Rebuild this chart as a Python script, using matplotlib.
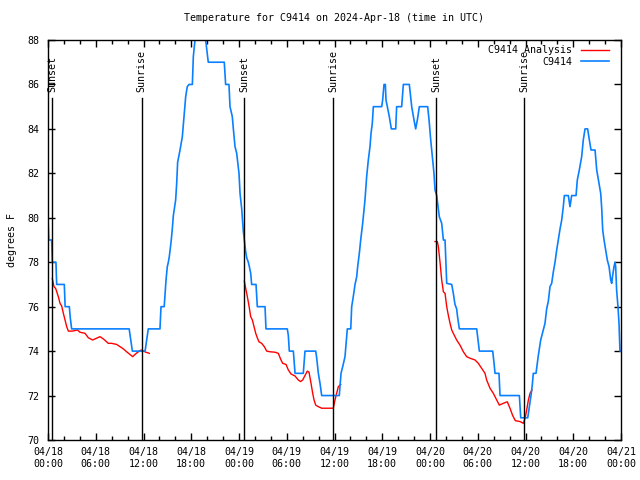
import matplotlib
matplotlib.use("Agg")
import matplotlib.pyplot as plt
import numpy as np

# Observed station temperature (hours since 04/18 00:00 UTC, deg F)
obs_hours = [0.0, 0.05, 0.1, 0.46, 0.54, 1.0, 1.09, 2.05, 2.15, 2.68, 2.8, 2.97,
             10.2, 10.6, 12.2, 12.6, 14.07, 14.2, 14.6, 14.7, 14.83, 14.99, 15.12, 15.24,
             15.46, 15.62, 15.75, 15.87, 16.04, 16.17, 16.29, 16.59, 16.88, 17.09, 17.3,
             17.5, 17.72, 18.14, 18.26, 18.47, 19.1, 19.81, 20.14, 22.15, 22.32, 22.74,
             22.87, 23.16, 23.29, 23.5, 23.71, 24.0, 24.13, 24.34, 24.54, 24.67, 24.84,
             24.97, 25.17, 25.3, 25.47, 25.59, 26.14, 26.3, 27.27, 27.39, 30.07, 30.2,
             30.32, 30.83, 31.04, 32.08, 32.29, 33.64, 33.76, 33.97, 34.18, 34.39, 34.81,
             36.6, 36.82, 37.03, 37.32, 37.53, 37.61, 38.04, 38.16, 38.36, 38.58, 38.79,
             38.91, 39.12, 39.29, 39.54, 39.71, 39.83, 40.04, 40.25, 40.46, 40.59, 40.75,
             40.88, 41.93, 42.05, 42.22, 42.39, 42.47, 42.64, 42.89, 43.14, 43.69, 43.81,
             44.44, 44.65, 45.4, 45.7, 45.99, 46.2, 46.41, 46.66, 47.71, 47.88, 48.09,
             48.29, 48.5, 48.63, 48.84, 49.05, 49.17, 49.47, 49.68, 49.89, 50.1, 50.73,
             50.93, 51.14, 51.35, 51.48, 51.69, 53.87, 54.0, 54.2, 55.88, 56.05, 56.17,
             56.67, 56.8, 59.23, 59.4, 60.28, 60.48, 60.69, 60.86, 60.98, 61.32, 61.61,
             61.91, 62.24, 62.45, 62.66, 62.87, 63.08, 63.29, 63.5, 63.71, 63.92, 64.12,
             64.34, 64.55, 64.75, 64.88, 65.38, 65.59, 65.8, 66.35, 66.51, 66.76, 67.06,
             67.26, 67.48, 67.81, 67.98, 68.23, 68.74, 68.95, 69.24, 69.45, 69.58, 69.7,
             69.87, 70.08, 70.28, 70.5, 70.71, 70.83, 70.95, 71.12, 71.25, 71.33, 71.45,
             71.62, 71.75, 71.87, 72.0]
obs_temps = [80.0, 79.5, 79.0, 79.0, 78.0, 78.0, 77.0, 77.0, 76.0, 76.0, 75.5, 75.0,
             75.0, 74.0, 74.0, 75.0, 75.0, 76.0, 76.0, 76.5, 77.2, 77.8, 78.0, 78.25,
             78.9, 79.5, 80.1, 80.4, 80.8, 81.55, 82.5, 83.05, 83.65, 84.55, 85.45,
             85.9, 86.0, 86.0, 87.25, 88.0, 89.0, 88.0, 87.0, 87.0, 86.0, 86.0,
             85.0, 84.55, 84.0, 83.2, 82.9, 82.0, 81.1, 80.4, 79.4, 79.0, 78.47,
             78.2, 78.0, 77.8, 77.5, 77.0, 77.0, 76.0, 76.0, 75.0, 75.0, 74.7,
             74.0, 74.0, 73.0, 73.0, 74.0, 74.0, 73.7, 73.0, 72.55, 72.0, 72.0,
             72.0, 73.0, 73.3, 73.75, 74.7, 75.0, 75.0, 76.0, 76.45, 77.0, 77.35,
             77.8, 78.4, 79.0, 79.75, 80.35, 80.8, 81.85, 82.6, 83.2, 83.8, 84.25,
             85.0, 85.0, 85.3, 86.0, 86.0, 85.3, 85.0, 84.55, 84.0, 84.0, 85.0,
             85.0, 86.0, 86.0, 85.0, 84.4, 84.0, 84.4, 85.0, 85.0, 84.4, 83.5,
             82.75, 82.0, 81.25, 81.0, 80.4, 80.05, 79.75, 79.0, 79.0, 77.05, 77.0,
             76.6, 76.1, 75.9, 75.5, 75.0, 75.0, 74.6, 74.0, 74.0, 73.45, 73.0,
             73.0, 72.0, 72.0, 71.0, 71.0, 71.5, 72.0, 72.5, 73.0, 73.0, 73.8,
             74.5, 74.95, 75.25, 75.9, 76.25, 76.9, 77.05, 77.57, 78.0, 78.55, 79.0,
             79.5, 79.9, 80.5, 81.0, 81.0, 80.5, 81.0, 81.0, 81.7, 82.15, 82.75,
             83.5, 84.0, 84.0, 83.6, 83.05, 83.05, 82.15, 81.55, 81.1, 80.4, 79.45,
             79.0, 78.55, 78.1, 77.8, 77.2, 77.05, 77.4, 77.8, 78.0, 77.8, 76.75,
             76.0, 75.25, 74.0, 74.0]

# Analysis (overnight segments)
ana1_hours = [0.54, 0.75, 0.96, 1.3, 1.51, 1.72, 1.93, 2.14, 2.35, 2.56, 3.06, 3.69,
              4.02, 4.65, 5.07, 5.61, 5.91, 6.53, 6.95, 7.58, 8.0, 8.63, 9.05, 9.47,
              9.88, 10.3, 10.64, 10.93, 11.27, 11.69, 11.98, 12.31, 12.73]
ana1_temps = [77.27, 76.9, 76.82, 76.45, 76.15, 76.03, 75.7, 75.4, 75.1, 74.9, 74.9, 74.95,
              74.85, 74.8, 74.6, 74.5, 74.55, 74.65, 74.55, 74.35, 74.35, 74.3, 74.2, 74.1,
              73.97, 73.85, 73.75, 73.85, 73.95, 74.05, 74.0, 73.95, 73.9]
ana2_hours = [24.67, 24.88, 25.05, 25.26, 25.47, 25.68, 25.89, 26.1, 26.3, 26.51, 26.85,
              27.18, 27.48, 27.9, 28.53, 28.94, 29.24, 29.49, 29.91, 30.2, 30.54, 31.04,
              31.45, 31.75, 32.0, 32.29, 32.58, 32.8, 33.05, 33.26, 33.43, 33.64, 33.97,
              34.39, 35.85, 36.06, 36.27, 36.48, 36.78]
ana2_temps = [77.15, 76.75, 76.45, 76.03, 75.55, 75.4, 75.1, 74.8, 74.6, 74.42, 74.35,
              74.2, 74.0, 73.97, 73.95, 73.9, 73.63, 73.45, 73.4, 73.15, 72.97, 72.88,
              72.7, 72.63, 72.7, 72.9, 73.1, 73.05, 72.55, 72.1, 71.8, 71.57, 71.5,
              71.43, 71.43, 71.8, 72.1, 72.4, 72.5]
ana3_hours = [48.63, 48.92, 49.05, 49.26, 49.47, 49.68, 49.89, 50.1, 50.31, 50.52, 50.73,
              50.93, 51.35, 51.77, 52.19, 52.61, 53.03, 53.66, 54.07, 54.5, 54.91, 55.12,
              55.54, 55.96, 56.38, 56.71, 57.21, 57.71, 58.05, 58.39, 58.72, 59.31, 59.73,
              59.94, 60.15, 60.36, 60.57, 60.82]
ana3_temps = [78.93, 78.93, 78.7, 78.0, 77.2, 76.67, 76.6, 76.0, 75.6, 75.25, 74.95,
              74.8, 74.5, 74.27, 73.97, 73.75, 73.68, 73.6, 73.45, 73.22, 73.0, 72.7,
              72.33, 72.1, 71.8, 71.57, 71.65, 71.72, 71.43, 71.1, 70.87, 70.83, 70.75,
              70.97, 71.35, 71.8, 72.1, 72.25]

sunset_hours = [0.54, 24.67, 48.76]
sunrise_hours = [11.77, 35.85, 59.86]

xtick_hours = [0, 6, 12, 18, 24, 30, 36, 42, 48, 54, 60, 66, 72]
xtick_labels = ["04/18\n00:00", "04/18\n06:00", "04/18\n12:00", "04/18\n18:00",
                "04/19\n00:00", "04/19\n06:00", "04/19\n12:00", "04/19\n18:00",
                "04/20\n00:00", "04/20\n06:00", "04/20\n12:00", "04/20\n18:00",
                "04/21\n00:00"]
yticks = [70, 72, 74, 76, 78, 80, 82, 84, 86, 88]

FONT = "DejaVu Sans Mono"
FS = 7.2
RED = "#ff0000"
BLUE = "#0a80ff"

fig = plt.figure(figsize=(6.4, 4.8), dpi=100)
ax = fig.add_axes([48/640, 1-440/480, (621-48)/640, 400/480])

ax.plot(ana1_hours, ana1_temps, color=RED, lw=1.0, label="C9414 Analysis")
ax.plot(ana2_hours, ana2_temps, color=RED, lw=1.0)
ax.plot(ana3_hours, ana3_temps, color=RED, lw=1.0)
ax.plot(obs_hours, obs_temps, color=BLUE, lw=1.2, label="C9414")

line_top = 85.4
for h in sunset_hours:
    ax.plot([h, h], [70, line_top], color="black", lw=1.0)
    ax.text(h, 85.65, "Sunset", rotation=90, ha="center", va="bottom",
            fontsize=FS, family=FONT)
for h in sunrise_hours:
    ax.plot([h, h], [70, line_top], color="black", lw=1.0)
    ax.text(h, 85.65, "Sunrise", rotation=90, ha="center", va="bottom",
            fontsize=FS, family=FONT)

ax.set_xlim(0, 72)
ax.set_ylim(70, 88)
ax.set_xticks(xtick_hours)
ax.set_xticklabels(xtick_labels, fontsize=FS, family=FONT)
ax.set_xticks(np.arange(0, 73, 2), minor=True)
ax.set_yticks(yticks)
ax.set_yticklabels([str(v) for v in yticks], fontsize=FS, family=FONT)
ax.tick_params(which="both", direction="in", top=True, right=True, width=1.0)
ax.tick_params(which="major", length=5)
ax.tick_params(which="minor", length=3)
ax.tick_params(axis="x", pad=5)
ax.tick_params(axis="y", pad=6)
for s in ax.spines.values():
    s.set_linewidth(1.0)

ax.set_title("Temperature for C9414 on 2024-Apr-18 (time in UTC)", fontsize=FS,
             family=FONT, pad=14)
ax.set_ylabel("degrees F", fontsize=FS, family=FONT, labelpad=8)

leg = ax.legend(loc="upper right", bbox_to_anchor=(1 - 7/573, 1.0),
                frameon=False, markerfirst=False,
                prop={"family": FONT, "size": FS}, handlelength=2.8,
                handletextpad=0.8, labelspacing=0.15, borderaxespad=0.15)

fig.savefig("out.png", dpi=100)
